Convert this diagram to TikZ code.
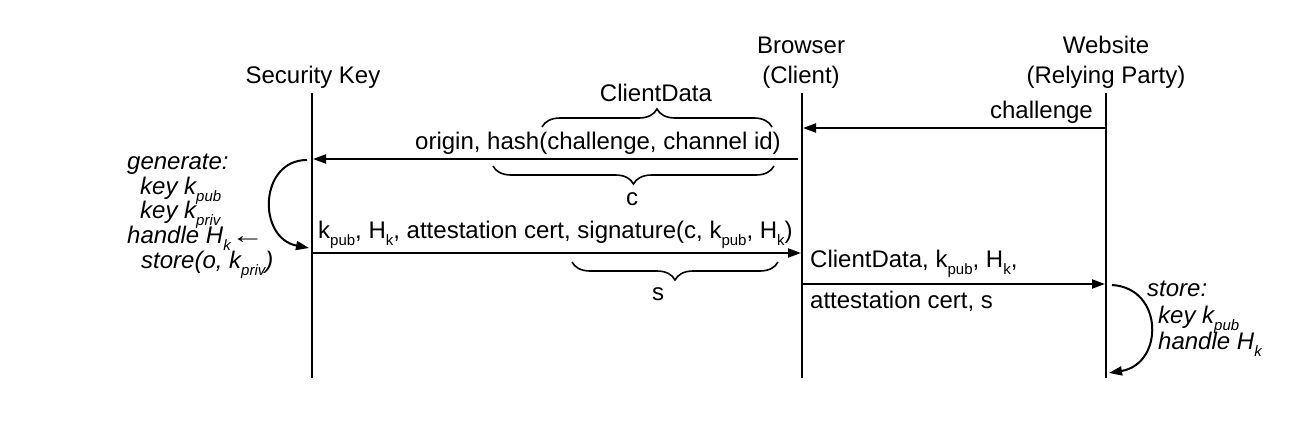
\documentclass[tikz,border=0pt]{standalone}
\usepackage{fontspec}
\setmainfont{Liberation Sans}
\usetikzlibrary{arrows.meta,decorations.pathreplacing}
\newcommand{\mysub}[1]{\raisebox{-7pt}{\fontsize{15}{15}\selectfont #1}}
\begin{document}
\begin{tikzpicture}[x=1pt,y=-1pt,
  font=\fontsize{24}{28}\selectfont,
  life/.style={line width=2pt},
  msg/.style={line width=2pt,-{Triangle[length=13pt,width=9pt]}},
  curv/.style={line width=2pt,-{Triangle[length=13pt,width=9pt]}},
  lbl/.style={inner sep=0pt,anchor=base},
  itl/.style={inner sep=0pt,anchor=base west,font=\fontsize{24}{28}\selectfont\itshape},
  br/.style={line width=1.6pt,decorate,decoration={brace,amplitude=18pt}}]
\useasboundingbox (0,0) rectangle (1314,428);

% titles
\node[lbl] (skt) at (313,84) {Security Key};
\node[lbl] (bt1) at (801,53) {Browser};
\node[lbl] (bt2) at (801,84) {(Client)};
\node[lbl] (wt1) at (1106,53) {Website};
\node[lbl] (wt2) at (1106,84) {(Relying Party)};

% lifelines
\coordinate (sk0) at (312,93);  \coordinate (sk1) at (312,378);
\coordinate (br0) at (802,93);  \coordinate (br1) at (802,378);
\coordinate (ws0) at (1106,93); \coordinate (ws1) at (1106,378);
\draw[life] (sk0) -- (sk1);
\draw[life] (br0) -- (br1);
\draw[life] (ws0) -- (ws1);

% message 1: challenge
\coordinate (m1a) at (1106,128); \coordinate (m1b) at (803,128);
\draw[msg] (m1a) -- (m1b);
\node[lbl,anchor=base east] (chl) at (1093,118) {challenge};

% message 2
\coordinate (m2a) at (798,159); \coordinate (m2b) at (313,159);
\draw[msg] (m2a) -- (m2b);
\node[lbl,anchor=base east] (m2l) at (781,149) {origin, hash(challenge, channel id)};
\coordinate (cd0) at (542,127); \coordinate (cd1) at (772,127);
\draw[br] (cd0) -- (cd1);
\node[lbl] (cdl) at (656,101) {ClientData};
\coordinate (c0) at (774,166); \coordinate (c1) at (493,166);
\draw[br] (c0) -- (c1);
\node[lbl] (cl) at (632,205) {c};

% message 3
\coordinate (m3a) at (313,253); \coordinate (m3b) at (801,253);
\draw[msg] (m3a) -- (m3b);
\node[lbl,anchor=base west] (m3l) at (318,238) {k\mysub{pub}, H\mysub{k}, attestation cert, signature(c, k\mysub{pub}, H\mysub{k})};
\coordinate (s0) at (778,262); \coordinate (s1) at (572,262);
\draw[br] (s0) -- (s1);
\node[lbl] (sl) at (658,300) {s};

% message 4
\coordinate (m4a) at (802,284); \coordinate (m4b) at (1105,284);
\draw[msg] (m4a) -- (m4b);
\node[lbl,anchor=base west] (m4l1) at (810,267) {ClientData, k\mysub{pub}, H\mysub{k},};
\node[lbl,anchor=base west] (m4l2) at (810,308) {attestation cert, s};

% generate (left)
\coordinate (gs) at (307,160); \coordinate (ge) at (309,248);
\draw[curv] (gs) .. controls (259,160) and (257,238) .. (ge);
\node[itl] (g1) at (127,169) {generate:};
\node[itl] (g2) at (140,194) {key k\mysub{pub}};
\node[itl] (g3) at (140,218) {key k\mysub{priv}};
\node[itl] (g4) at (127,243) {handle H\mysub{k}\scalebox{1.4}[1]{\upshape ←}};
\node[itl] (g5) at (141,268) {store(o, k\mysub{priv})};

% store (right)
\coordinate (ss) at (1112,285); \coordinate (se) at (1109,373);
\draw[curv] (ss) .. controls (1164,288) and (1164,364) .. (se);
\node[itl] (r1) at (1147,296) {store:};
\node[itl] (r2) at (1158,323) {key k\mysub{pub}};
\node[itl] (r3) at (1158,349) {handle H\mysub{k}};
\end{tikzpicture}
\end{document}
